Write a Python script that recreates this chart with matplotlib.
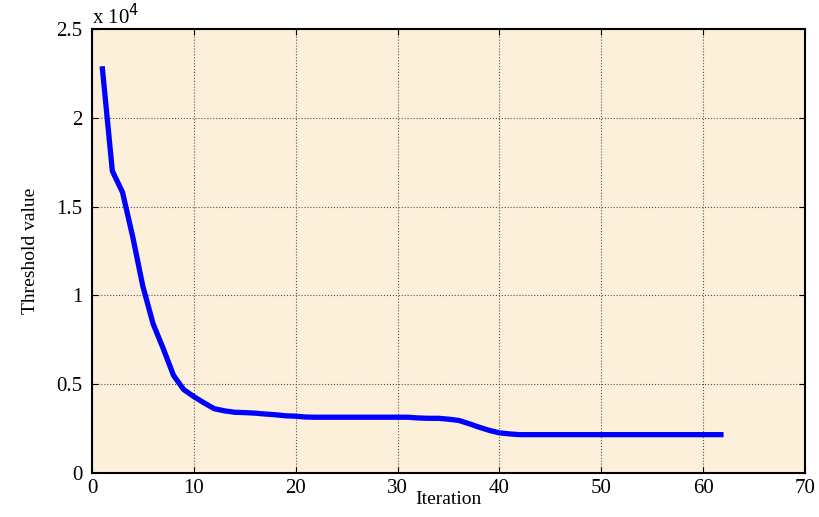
import matplotlib
matplotlib.use("Agg")
import matplotlib.pyplot as plt
from matplotlib.ticker import FuncFormatter
import numpy as np

# threshold value per iteration
iterations = list(range(1, 63))
threshold = [
    22900, 17000, 15800, 13300, 10500, 8400, 7000, 5500, 4700, 4300,
    3950, 3620, 3500, 3420, 3400, 3370, 3320, 3280, 3220, 3200,
    3150, 3140, 3140, 3140, 3140, 3140, 3140, 3140, 3140, 3140,
    3140, 3100, 3080, 3080, 3030, 2960, 2780, 2580, 2400, 2260,
    2200, 2160, 2160, 2160, 2160, 2160, 2160, 2160, 2160, 2160,
    2160, 2160, 2160, 2160, 2160, 2160, 2160, 2160, 2160, 2160,
    2160, 2160,
]
x_ticks = [0, 10, 20, 30, 40, 50, 60, 70]
y_ticks = [0, 5000, 10000, 15000, 20000, 25000]

plt.rcParams["font.family"] = ["Liberation Serif", "DejaVu Serif"]

fig = plt.figure(figsize=(8.19, 5.17), dpi=100)
ax = fig.add_axes([0.1123, 0.0851, 0.8707, 0.8589])
ax.set_facecolor("#FDF0DB")

ax.plot(iterations, threshold, color="#0000FF", linewidth=3.8, solid_capstyle="butt")

ax.set_xlim(0, 70)
ax.set_ylim(0, 25000)
ax.set_xticks(x_ticks)
ax.set_yticks(y_ticks)
ax.yaxis.set_major_formatter(FuncFormatter(lambda v, p: "%g" % (v / 1e4)))
ax.tick_params(direction="in", length=4, width=0.8, top=True, right=True,
               labelsize=15)
ax.tick_params(axis="y", pad=7)
ax.tick_params(axis="x", pad=4)
ax.grid(True, color="#555555", linestyle=":", linewidth=0.8)

for s in ax.spines.values():
    s.set_linewidth(1.5)

ax.set_xlabel("Iteration", fontsize=14, labelpad=-5)
ax.set_ylabel("Threshold value", fontsize=14, labelpad=12)
ax.text(0.0, 1.0, r"x 10$^4$", transform=ax.transAxes, fontsize=15,
        ha="left", va="bottom")

fig.savefig("out.png", dpi=100)
